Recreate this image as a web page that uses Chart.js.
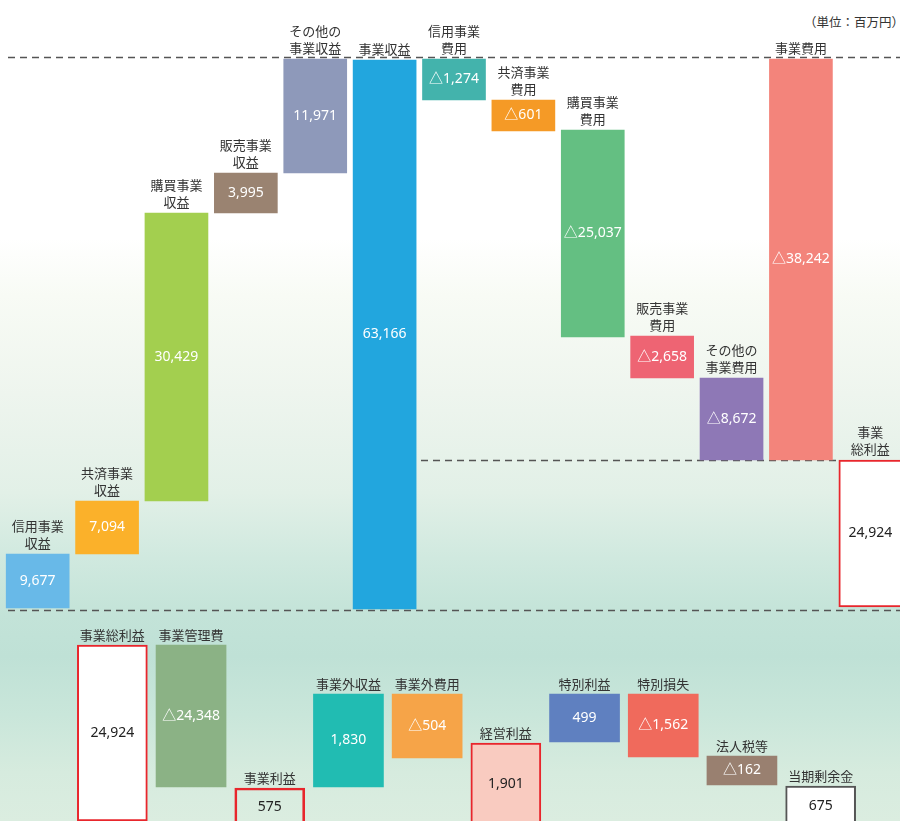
<!DOCTYPE html>
<html lang="ja">
<head>
<meta charset="utf-8">
<script src="https://cdn.jsdelivr.net/npm/chart.js@4.4.1/dist/chart.umd.min.js"></script>
<style>
  html, body { margin: 0; padding: 0; width: 900px; height: 821px; overflow: hidden; }
  body {
    position: relative;
    font-family: "Noto Sans CJK JP", sans-serif;
    background: linear-gradient(to bottom,
      #ffffff 0%, #ffffff 29%, #f8fbf5 36%, #eef5ee 48%, #e2f0e7 60%,
      #d0e9df 68%, #c3e3d8 75%, #bfe1d6 80%, #c9e6da 87%, #d6ebde 94%, #dbede0 100%);
  }
  #unit { position: absolute; right: -4px; top: 12px; font-size: 12.5px; color: #333; }
  #topBox { position: absolute; left: 0; top: 0; }
  #botBox { position: absolute; left: 0; top: 612px; }
</style>
</head>
<body>
<div id="unit">（単位：百万円）</div>
<canvas id="topBox" width="905" height="612"></canvas>
<canvas id="botBox" width="900" height="209"></canvas>
<script>
// 上段：事業総利益まで
const topNames = [
  ['信用事業', '収益'], ['共済事業', '収益'], ['購買事業', '収益'], ['販売事業', '収益'],
  ['その他の', '事業収益'], ['事業収益'], ['信用事業', '費用'], ['共済事業', '費用'],
  ['購買事業', '費用'], ['販売事業', '費用'], ['その他の', '事業費用'], ['事業費用'], ['事業', '総利益']
];
const topValues = [9677, 7094, 30429, 3995, 11971, 63166, -1274, -601, -25037, -2658, -8672, -38242, 24924];
// 図の高さ（原図は縮尺どおりではないので、図から読んだ段の位置）
const topLevels = [
  [0, 54], [54, 107], [107, 395], [395, 435], [435, 549], [-1, 548],
  [508, 549], [477, 508], [271, 478], [230, 272], [148, 230], [148, 549], [1, 148]
];
const topColors = [
  '#68b9e8', '#fbb12a', '#a3cf4f', '#9a8371', '#8e99ba', '#22a6de',
  '#43b3ac', '#f59a26', '#64bf82', '#ee6473', '#8e78b6', '#f3847b', '#ffffff'
];

// 下段：当期剰余金まで
const botNames = ['事業総利益', '事業管理費', '事業利益', '事業外収益', '事業外費用',
  '経営利益', '特別利益', '特別損失', '法人税等', '当期剰余金'];
const botValues = [24924, -24348, 575, 1830, -504, 1901, 499, -1562, -162, 675];
const botLevels = [
  [0, 176], [34, 176], [-5, 33], [34, 127], [63, 127],
  [-4, 78], [79, 127], [64, 127], [36, 65], [-5, 35]
];
const botColors = [
  '#ffffff', '#8bb285', 'rgba(0,0,0,0)', '#21bcb2', '#f6a448',
  '#f9cbc0', '#5f80c0', '#f06a5c', '#998070', '#ffffff'
];

const RED = '#e8262c';
const fmt = v => (v < 0 ? '△' : '') + Math.abs(v).toLocaleString('en-US');

const annotate = {
  id: 'annotate',
  beforeDatasetsDraw(chart, args, opts) {
    const ctx = chart.ctx;
    const y = chart.scales.y;
    ctx.save();
    ctx.strokeStyle = '#555';
    ctx.lineWidth = 1.3;
    ctx.setLineDash([7, 5]);
    (opts.lines || []).forEach(l => {
      const from = typeof l.from === 'function' ? l.from(chart) : l.from;
      const to = typeof l.to === 'function' ? l.to(chart) : l.to;
      const py = Math.round(y.getPixelForValue(l.at)) + 0.5;
      ctx.beginPath();
      ctx.moveTo(from, py);
      ctx.lineTo(to, py);
      ctx.stroke();
    });
    ctx.restore();
  },
  afterDatasetsDraw(chart, args, opts) {
    const ctx = chart.ctx;
    const meta = chart.getDatasetMeta(0);
    ctx.save();
    ctx.textAlign = 'center';
    ctx.textBaseline = 'middle';
    meta.data.forEach((bar, i) => {
      const p = bar.getProps(['x', 'y', 'base'], true);
      const top = Math.min(p.y, p.base);
      const bottom = Math.max(p.y, p.base);
      const lines = [].concat(opts.names[i]);
      ctx.font = '13px "Noto Sans CJK JP"';
      ctx.fillStyle = '#333';
      lines.forEach((t, k) => {
        ctx.fillText(t, p.x, top - opts.gap - (lines.length - 1 - k) * 17);
      });
      ctx.font = '14px "Noto Sans", "Noto Sans CJK JP"';
      ctx.fillStyle = opts.darkText.includes(i) ? '#222' : '#fff';
      ctx.fillText(fmt(opts.values[i]), p.x, (top + bottom) / 2);
    });
    ctx.restore();
  }
};

const hiddenScales = (min, max) => ({
  x: { display: false, grid: { display: false } },
  y: { display: false, min: min, max: max, grid: { display: false } }
});

new Chart(document.getElementById('topBox'), {
  type: 'bar',
  data: {
    labels: topNames.map(n => n.join('')),
    datasets: [{
      data: topLevels,
      backgroundColor: topColors,
      borderColor: topColors.map((c, i) => i === 12 ? RED : c),
      // 右端の箱は画面の外へはみ出しているので右枠は見えない
      borderWidth: topColors.map((c, i) => i === 12 ? { top: 2, left: 2, bottom: 2, right: 0 } : 0),
      borderSkipped: false,
      barThickness: 63
    }]
  },
  options: {
    responsive: false,
    animation: false,
    layout: { padding: { left: 3, right: 0, top: 0, bottom: 0 } },
    scales: hiddenScales(-4, 608),
    plugins: {
      legend: { display: false },
      tooltip: { enabled: false },
      annotate: {
        names: topNames,
        values: topValues,
        gap: 11,
        darkText: [12],
        lines: [
          { at: 551, from: 8, to: 905 },
          { at: 148,
            from: c => c.scales.x.getPixelForValue(6) - 33,
            to: c => c.scales.x.getPixelForValue(12) - 31 },
          { at: -2, from: 8, to: 905 }
        ]
      }
    }
  },
  plugins: [annotate]
});

new Chart(document.getElementById('botBox'), {
  type: 'bar',
  data: {
    labels: botNames,
    datasets: [{
      data: botLevels,
      backgroundColor: botColors,
      borderColor: botColors.map((c, i) => [0, 2, 5].includes(i) ? RED : (i === 9 ? '#555' : c)),
      borderWidth: botColors.map((c, i) => [0, 2, 5, 9].includes(i) ? 2 : 0),
      borderSkipped: false,
      barThickness: 70
    }]
  },
  options: {
    responsive: false,
    animation: false,
    layout: { padding: { left: 73, right: 40, top: 0, bottom: 0 } },
    scales: hiddenScales(0, 209),
    plugins: {
      legend: { display: false },
      tooltip: { enabled: false },
      annotate: {
        names: botNames,
        values: botValues,
        gap: 10,
        darkText: [0, 2, 5, 9],
        lines: []
      }
    }
  },
  plugins: [annotate]
});
</script>
</body>
</html>
